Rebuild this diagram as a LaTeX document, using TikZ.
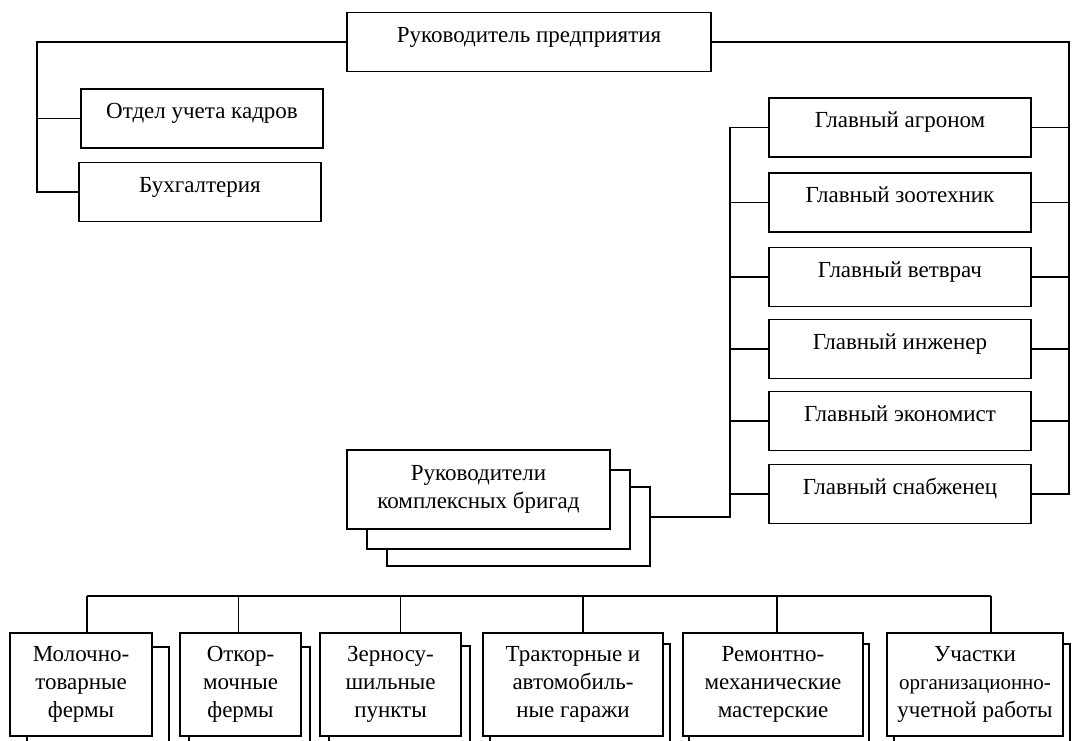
\documentclass[tikz,border=0pt]{standalone}
\usepackage{fontspec}
\setmainfont{Liberation Serif}
\tikzset{
  box/.style={draw, fill=white, line width=1.7pt, inner sep=0pt, minimum height=59, text height=12pt, text depth=12pt},
  lowbox/.style={draw, fill=white, line width=1.7pt, inner sep=0pt, align=center, minimum height=103},
  brig/.style={lowbox, minimum width=263, minimum height=79},
  link/.style={line width=1.7pt},
}
\begin{document}
\begin{tikzpicture}[x=1pt, y=-1pt, font=\fontsize{23}{28}\selectfont]
  \useasboundingbox (0,0) rectangle (1080,740);

  % top
  \node[box, minimum width=364] (ruk) at (529,42) {Руководитель предприятия};
  \node[box, minimum width=242] (kadry) at (202,118.5) {Отдел учета кадров};
  \node[box, minimum width=242] (buh) at (200,192) {Бухгалтерия};
  \coordinate (lb) at (37,42);
  \coordinate (rb) at (1069,42);
  \draw[link] (ruk.west) -- (lb) |- (buh.west);
  \draw[link] (kadry.west) -- (kadry.west -| lb);

  % chief specialists
  \foreach \name/\cy/\txt in {agr/127.5/Главный агроном, zoo/202.5/Главный зоотехник,
      vet/277/Главный ветврач, ing/349/Главный инженер,
      eco/421/Главный экономист, snab/494/Главный снабженец}
  {
    \node[box, minimum width=262] (\name) at (900,\cy) {\txt};
    \draw[link] (\name.east) -- (\name.east -| rb);
    \draw[link] (\name.west) -- ++(-38,0);
  }
  \draw[link] (ruk.east) -- (rb) |- (snab.east);

  % brigades
  \node[brig] (rk3) at (518.5,526.5) {};
  \node[brig] (rk2) at (498.5,509.5) {};
  \node[brig] (rk1) at (478.5,489.5) {Руководители\\комплексных бригад};
  \draw[link] (agr.west) -- ++(-38,0) |- ([yshift=9.5]rk3.east);

  % bottom row
  \coordinate (bus) at (0,596);
  \foreach \name/\cx/\w/\dx/\dy/\cs/\txt in {
      mol/81/142/17/14/6/{Молочно-\\товарные\\фермы},
      otk/240.5/121/9/14/-2/{Откор-\\мочные\\фермы},
      zer/390.5/141/9/13/10/{Зерносу-\\шильные\\пункты},
      tra/573/180/7/11/10/{Тракторные и\\автомобиль-\\ные гаражи},
      rem/773/180/6/11/4/{Ремонтно-\\механические\\мастерские},
      uch/975/176/7/11/16/{Участки\\{\fontsize{21}{28}\selectfont организационно-}\\учетной работы}}
  {
    \node[lowbox, minimum width=\w] at (\cx+\dx,684.5+\dy) {};
    \node[lowbox, minimum width=\w] (\name) at (\cx,684.5) {\txt};
    \draw[link] ([xshift=\cs]\name.north) -- ([xshift=\cs]\name.north |- bus);
  }
  \draw[link] ([xshift=6]mol.north |- bus) -- ([xshift=16]uch.north |- bus);

\end{tikzpicture}
\end{document}
